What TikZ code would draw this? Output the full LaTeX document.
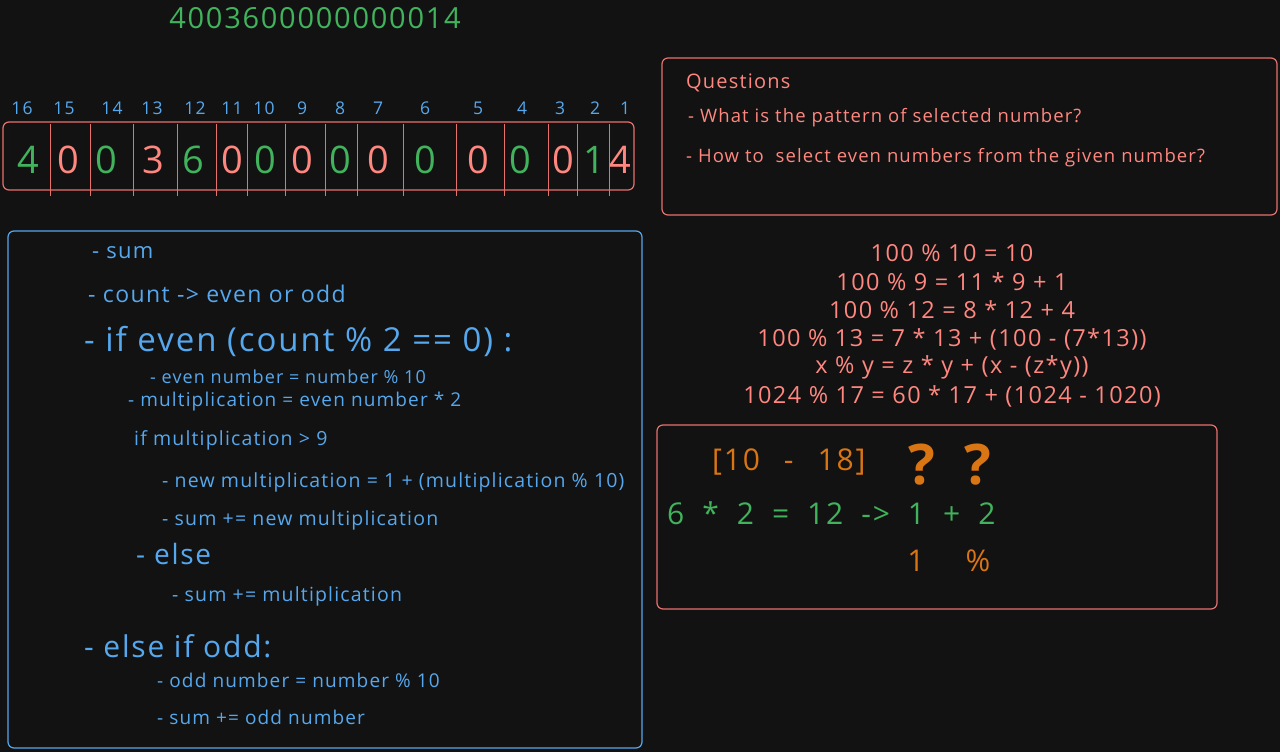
\documentclass[tikz,border=0pt]{standalone}
\usepackage{fontspec}
\setmainfont[LetterSpace=6]{Open Sans}
\usetikzlibrary{positioning}
\definecolor{bg}{HTML}{121212}
\definecolor{salmon}{HTML}{FF8780}
\definecolor{boxred}{HTML}{E8716E}
\definecolor{grn}{HTML}{40B35C}
\definecolor{blu}{HTML}{56A8EE}
\definecolor{org}{HTML}{D97512}
\begin{document}
\begin{tikzpicture}[x=1pt, y=-1pt,
      sz/.style={font=\fontsize{#1}{#1}\selectfont, inner sep=0pt},
      box/.style={draw, line width=1.2pt, rounded corners=6pt},
      code/.style={sz=#1, anchor=west, text=blu},
      eq/.style={sz=23.5, text=salmon},
      qs/.style={sz=18.5, anchor=west, text=salmon},
      qm/.style={font=\fontsize{56}{56}\selectfont\bfseries, inner sep=0pt, text=org},
      wide/.style={execute at begin node={\spaceskip=#1em\relax}}]
      \fill[bg] (0,0) rectangle (1280,752);
      \useasboundingbox (0,0) rectangle (1280,752);
      % number and its digit strip
      \node[sz=29, text=grn] (card) at (315,18) {4003600000000014};
      \draw[box, boxred] (3,122) rectangle (634,190);
      \foreach \x in {50,90,133,177,216,247,285,325,357,403,456,504,548,577,609}
        \draw[boxred, line width=1pt] (\x,124) -- (\x,196);
      \foreach \x/\n in {22/16,64/15,112/14,152/13,195/12,232/11,264/10,302/9,
                         340/8,378/7,425/6,478/5,522/4,560/3,595/2,625/1}
        \node[sz=17.5, text=blu] (i\n) at (\x,108) {\n};
      \foreach \x/\d/\c [count=\i] in {28/4/grn,68/0/salmon,106/0/grn,153/3/salmon,
                         193/6/grn,232/0/salmon,265/0/grn,302/0/salmon,340/0/grn,
                         378/0/salmon,425/0/grn,478/0/salmon,520/0/grn,563/0/salmon,
                         594/1/grn,620/4/salmon}
        \node[sz=38, text=\c] (d\i) at (\x,160) {\d};
      % questions
      \draw[box, boxred] (662,58) rectangle (1277,215);
      \node[sz=20, anchor=west, text=salmon] (qhead) at (686,83) {Questions};
      \node[qs] (q1) at (688,118) {- What is the pattern of selected number?};
      \node[qs] (q2) at (686,158) {- How to\ \ select even numbers from the given number?};
      % steps
      \draw[box, blu] (8,231) rectangle (642,748);
      \node[code=22] (s1) at (92,253) {- sum};
      \node[code=23] (s2) at (88,294) {- count -> even or odd};
      \node[code=33] (s3) at (84,341) {- if even (count \% 2 == 0) :};
      \node[code=18] (s4) at (150,377) {- even number = number \% 10};
      \node[code=19] (s5) at (128,402) {- multiplication = even number * 2};
      \node[code=19.5] (s6) at (134,440) {if multiplication > 9};
      \node[code=19.5] (s7) at (162,482) {- new multiplication = 1 + (multiplication \% 10)};
      \node[code=19.5] (s8) at (162,520) {- sum += new multiplication};
      \node[code=28] (s9) at (136,554) {- else};
      \node[code=19.5] (s10) at (172,596) {- sum += multiplication};
      \node[code=30] (s11) at (84,646) {- else if odd:};
      \node[code=19] (s12) at (157,680) {- odd number = number \% 10};
      \node[code=19] (s13) at (157,717) {- sum += odd number};
      % modulo examples
      \node[eq] (e1) at (952,253) {100 \% 10 = 10};
      \node[eq] (e2) at (952,282) {100 \% 9 = 11 * 9 + 1};
      \node[eq] (e3) at (952,310) {100 \% 12 = 8 * 12 + 4};
      \node[eq] (e4) at (952,339) {100 \% 13 = 7 * 13 + (100 - (7*13))};
      \node[eq] (e5) at (952,367) {x \% y = z * y + (x - (z*y))};
      \node[eq] (e6) at (952,396) {1024 \% 17 = 60 * 17 + (1024 - 1020)};
      % digit sum box
      \draw[box, boxred] (657,425) rectangle (1217,609);
      \node[sz=30, wide=0.8, anchor=west, text=org] (rng) at (712,462) {[10 - 18]};
      \node[qm] (qa) at (922,465) {?};
      \node[qm] (qb) at (978,465) {?};
      \node[sz=30, wide=0.6, anchor=west, text=grn] (prod) at (667,513) {6 * 2 = 12 -> 1 + 2};
      \node[sz=30, text=org] (one) at (916,561) {1};
      \node[sz=30, text=org] (pct) at (978,561) {\%};
    \end{tikzpicture}
\end{document}
